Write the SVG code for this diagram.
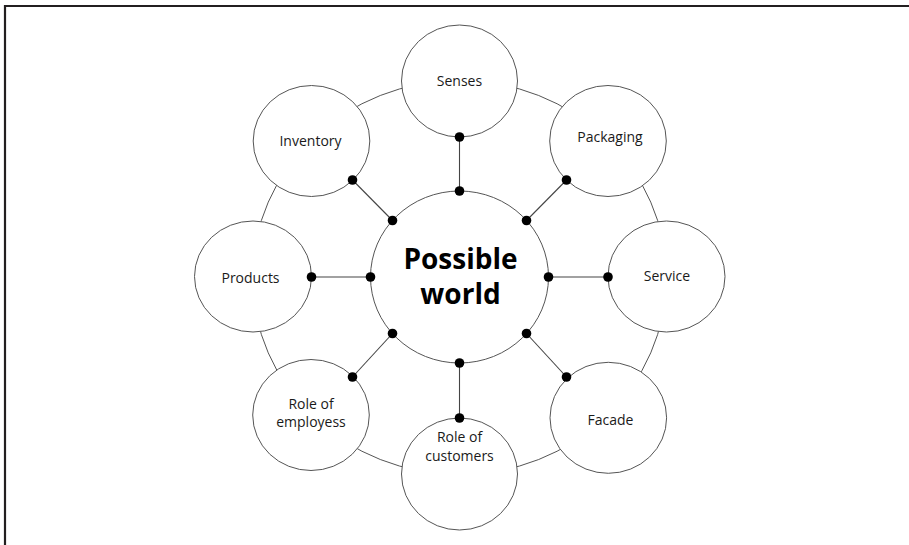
<svg xmlns="http://www.w3.org/2000/svg" width="909" height="545" viewBox="0 0 909 545">
<style>
.frame{stroke:#231f20;stroke-width:2.2;fill:none}
.ring{fill:none;stroke:#555;stroke-width:1}
.node{fill:#fff;stroke:#555;stroke-width:1}
.link{stroke:#444;stroke-width:1.1}
.dot{fill:#000}
.lbl{font-family:"Open Sans","Liberation Sans",sans-serif;font-size:14px;fill:#1a1a1a;text-anchor:middle}
.main{font-family:"Open Sans","Liberation Sans",sans-serif;font-size:28px;font-weight:700;fill:#000;text-anchor:middle}
</style>
<rect width="909" height="545" fill="#fff"/>
<path class="frame" d="M4 6H909M5 5V545"/>
<g id="connectors">
<ellipse class="ring" cx="459.5" cy="277.5" rx="207" ry="197"/>
<line class="link" x1="459.5" y1="137" x2="459.5" y2="191"/>
<line class="link" x1="352.5" y1="180" x2="392.5" y2="220.5"/>
<line class="link" x1="566.5" y1="180" x2="526.5" y2="220.5"/>
<line class="link" x1="311.5" y1="277" x2="370.5" y2="277"/>
<line class="link" x1="608" y1="277" x2="548.5" y2="277"/>
<line class="link" x1="352.5" y1="377" x2="392.5" y2="333.5"/>
<line class="link" x1="566.5" y1="377" x2="526.5" y2="333.5"/>
<line class="link" x1="459.5" y1="418" x2="459.5" y2="363"/>
</g>
<g id="senses"><ellipse class="node" cx="459.5" cy="81" rx="58" ry="56"/><text class="lbl" x="459.5" y="86">Senses</text></g>
<g id="inventory"><ellipse class="node" cx="311.5" cy="141" rx="58.3" ry="55.5"/><text class="lbl" x="310.5" y="146">Inventory</text></g>
<g id="packaging"><ellipse class="node" cx="608" cy="141" rx="58.3" ry="55.5"/><text class="lbl" x="610" y="142">Packaging</text></g>
<g id="products"><ellipse class="node" cx="253" cy="276.5" rx="58.5" ry="55.5"/><text class="lbl" x="250.5" y="283">Products</text></g>
<g id="service"><ellipse class="node" cx="666.5" cy="276.5" rx="58.5" ry="55.5"/><text class="lbl" x="667" y="281">Service</text></g>
<g id="role-employess"><ellipse class="node" cx="311" cy="415" rx="58.3" ry="55.5"/><text class="lbl" x="311" y="409">Role of</text><text class="lbl" x="311" y="426.5">employess</text></g>
<g id="facade"><ellipse class="node" cx="608.3" cy="417.8" rx="58.3" ry="55.5"/><text class="lbl" x="610.5" y="424.5">Facade</text></g>
<g id="role-customers"><ellipse class="node" cx="459.5" cy="474" rx="58" ry="56"/><text class="lbl" x="459.5" y="442">Role of</text><text class="lbl" x="459.5" y="461">customers</text></g>
<g id="possible-world"><ellipse class="node" cx="459.5" cy="277" rx="89" ry="86"/><text class="main" x="460.5" y="268.5">Possible</text><text class="main" x="460.5" y="304">world</text></g>
<g id="dots">
<circle class="dot" cx="459.5" cy="137" r="4.8"/><circle class="dot" cx="459.5" cy="191" r="4.8"/>
<circle class="dot" cx="352.5" cy="180" r="4.8"/><circle class="dot" cx="392.5" cy="220.5" r="4.8"/>
<circle class="dot" cx="566.5" cy="180" r="4.8"/><circle class="dot" cx="526.5" cy="220.5" r="4.8"/>
<circle class="dot" cx="311.5" cy="277" r="4.8"/><circle class="dot" cx="370.5" cy="277" r="4.8"/>
<circle class="dot" cx="608" cy="277" r="4.8"/><circle class="dot" cx="548.5" cy="277" r="4.8"/>
<circle class="dot" cx="352.5" cy="377" r="4.8"/><circle class="dot" cx="392.5" cy="333.5" r="4.8"/>
<circle class="dot" cx="566.5" cy="377" r="4.8"/><circle class="dot" cx="526.5" cy="333.5" r="4.8"/>
<circle class="dot" cx="459.5" cy="418" r="4.8"/><circle class="dot" cx="459.5" cy="363" r="4.8"/>
</g>
</svg>
